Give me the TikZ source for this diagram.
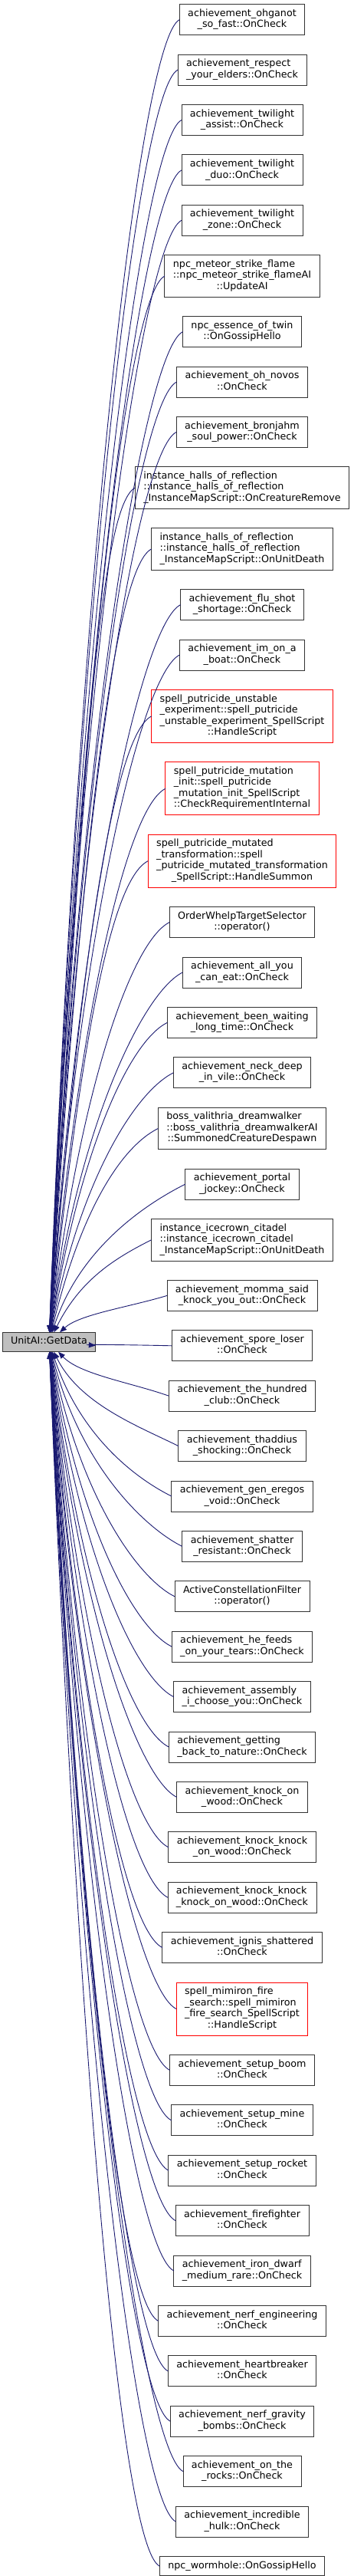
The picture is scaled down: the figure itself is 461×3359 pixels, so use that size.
\documentclass[tikz,border=0pt]{standalone}
\usepackage{fontspec}
\setmainfont{DejaVu Sans}
\usetikzlibrary{arrows.meta, positioning, calc}
\definecolor{midnight}{HTML}{191970}
\definecolor{framegray}{HTML}{333333}
\definecolor{rootgray}{HTML}{BFBFBF}

% first lines left, last line centred
\newcommand{\callee}[2]{\begin{tabular}{@{}l@{}}#1\\\multicolumn{1}{@{}c@{}}{#2}\end{tabular}}

\begin{document}
\begin{tikzpicture}[
  x=1pt, y=-1pt,
  font=\fontsize{12.7}{14.5}\selectfont,
  node distance=25.4pt,
  fn/.style={rectangle, draw=framegray, fill=white, line width=0.9pt,
             inner xsep=11pt, inner ysep=5.5pt, outer sep=0pt},
  fnred/.style={fn, draw=red},
  rootfn/.style={fn, fill=rootgray},
  callarrow/.style={{Triangle[length=9pt, width=7pt]}-, draw=midnight, line width=0.9pt},
]
\useasboundingbox (0,0) rectangle (461,3359);

\node[rootfn] (root) at (64,1750) {\strut UnitAI::GetData};

% callers, top to bottom
\node[fn] (ohganot) at (316,25.7) {\callee{achievement\_ohganot}{\_so\_fast::OnCheck}};
\node[fn, below=of ohganot] (respect) {\callee{achievement\_respect}{\_your\_elders::OnCheck}};
\node[fn, below=of respect] (twassist) {\callee{achievement\_twilight}{\_assist::OnCheck}};
\node[fn, below=of twassist] (twduo) {\callee{achievement\_twilight}{\_duo::OnCheck}};
\node[fn, below=of twduo] (twzone) {\callee{achievement\_twilight}{\_zone::OnCheck}};
\node[fn, below=of twzone] (meteor) {\callee{npc\_meteor\_strike\_flame\\::npc\_meteor\_strike\_flameAI}{::UpdateAI}};
\node[fn, below=of meteor] (essence) {\callee{npc\_essence\_of\_twin}{::OnGossipHello}};
\node[fn, below=of essence] (novos) {\callee{achievement\_oh\_novos}{::OnCheck}};
\node[fn, below=of novos] (bronjahm) {\callee{achievement\_bronjahm}{\_soul\_power::OnCheck}};
\node[fn, below=of bronjahm] (horremove) {\callee{instance\_halls\_of\_reflection\\::instance\_halls\_of\_reflection}{\_InstanceMapScript::OnCreatureRemove}};
\node[fn, below=of horremove] (hordeath) {\callee{instance\_halls\_of\_reflection\\::instance\_halls\_of\_reflection}{\_InstanceMapScript::OnUnitDeath}};
\node[fn, below=of hordeath] (flushot) {\callee{achievement\_flu\_shot}{\_shortage::OnCheck}};
\node[fn, below=of flushot] (boat) {\callee{achievement\_im\_on\_a}{\_boat::OnCheck}};
\node[fnred, below=of boat] (unstable) {\callee{spell\_putricide\_unstable\\\_experiment::spell\_putricide\\\_unstable\_experiment\_SpellScript}{::HandleScript}};
\node[fnred, below=of unstable] (mutinit) {\callee{spell\_putricide\_mutation\\\_init::spell\_putricide\\\_mutation\_init\_SpellScript}{::CheckRequirementInternal}};
\node[fnred, below=of mutinit] (mutated) {\callee{spell\_putricide\_mutated\\\_transformation::spell\\\_putricide\_mutated\_transformation}{\_SpellScript::HandleSummon}};
\node[fn, below=of mutated] (whelp) {\callee{OrderWhelpTargetSelector}{::operator()}};
\node[fn, below=of whelp] (allyou) {\callee{achievement\_all\_you}{\_can\_eat::OnCheck}};
\node[fn, below=of allyou] (waiting) {\callee{achievement\_been\_waiting}{\_long\_time::OnCheck}};
\node[fn, below=of waiting] (neckdeep) {\callee{achievement\_neck\_deep}{\_in\_vile::OnCheck}};
\node[fn, below=of neckdeep] (valithria) {\callee{boss\_valithria\_dreamwalker\\::boss\_valithria\_dreamwalkerAI}{::SummonedCreatureDespawn}};
\node[fn, below=of valithria] (portal) {\callee{achievement\_portal}{\_jockey::OnCheck}};
\node[fn, below=of portal] (icecrown) {\callee{instance\_icecrown\_citadel\\::instance\_icecrown\_citadel}{\_InstanceMapScript::OnUnitDeath}};
\node[fn, below=of icecrown] (momma) {\callee{achievement\_momma\_said}{\_knock\_you\_out::OnCheck}};
\node[fn, below=of momma] (spore) {\callee{achievement\_spore\_loser}{::OnCheck}};
\node[fn, below=of spore] (hundred) {\callee{achievement\_the\_hundred}{\_club::OnCheck}};
\node[fn, below=of hundred] (thaddius) {\callee{achievement\_thaddius}{\_shocking::OnCheck}};
\node[fn, below=of thaddius] (eregos) {\callee{achievement\_gen\_eregos}{\_void::OnCheck}};
\node[fn, below=of eregos] (shatter) {\callee{achievement\_shatter}{\_resistant::OnCheck}};
\node[fn, below=of shatter] (constellation) {\callee{ActiveConstellationFilter}{::operator()}};
\node[fn, below=of constellation] (hefeeds) {\callee{achievement\_he\_feeds}{\_on\_your\_tears::OnCheck}};
\node[fn, below=of hefeeds] (assembly) {\callee{achievement\_assembly}{\_i\_choose\_you::OnCheck}};
\node[fn, below=of assembly] (nature) {\callee{achievement\_getting}{\_back\_to\_nature::OnCheck}};
\node[fn, below=of nature] (knockone) {\callee{achievement\_knock\_on}{\_wood::OnCheck}};
\node[fn, below=of knockone] (knocktwo) {\callee{achievement\_knock\_knock}{\_on\_wood::OnCheck}};
\node[fn, below=of knocktwo] (knockthree) {\callee{achievement\_knock\_knock}{\_knock\_on\_wood::OnCheck}};
\node[fn, below=of knockthree] (ignis) {\callee{achievement\_ignis\_shattered}{::OnCheck}};
\node[fnred, below=of ignis] (mimiron) {\callee{spell\_mimiron\_fire\\\_search::spell\_mimiron\\\_fire\_search\_SpellScript}{::HandleScript}};
\node[fn, below=of mimiron] (boom) {\callee{achievement\_setup\_boom}{::OnCheck}};
\node[fn, below=of boom] (mine) {\callee{achievement\_setup\_mine}{::OnCheck}};
\node[fn, below=of mine] (rocket) {\callee{achievement\_setup\_rocket}{::OnCheck}};
\node[fn, below=of rocket] (firefighter) {\callee{achievement\_firefighter}{::OnCheck}};
\node[fn, below=of firefighter] (irondwarf) {\callee{achievement\_iron\_dwarf}{\_medium\_rare::OnCheck}};
\node[fn, below=of irondwarf] (nerfeng) {\callee{achievement\_nerf\_engineering}{::OnCheck}};
\node[fn, below=of nerfeng] (heartbreaker) {\callee{achievement\_heartbreaker}{::OnCheck}};
\node[fn, below=of heartbreaker] (nerfgrav) {\callee{achievement\_nerf\_gravity}{\_bombs::OnCheck}};
\node[fn, below=of nerfgrav] (rocks) {\callee{achievement\_on\_the}{\_rocks::OnCheck}};
\node[fn, below=of rocks] (hulk) {\callee{achievement\_incredible}{\_hulk::OnCheck}};
\node[fn, below=of hulk] (wormhole) {\strut npc\_wormhole::OnGossipHello};

% every caller points back at GetData
\foreach \nm in {ohganot, respect, twassist, twduo, twzone, meteor, essence, novos,
    bronjahm, horremove, hordeath, flushot, boat, unstable, mutinit, mutated, whelp,
    allyou, waiting, neckdeep, valithria, portal, icecrown, momma, spore, hundred,
    thaddius, eregos, shatter, constellation, hefeeds, assembly, nature, knockone,
    knocktwo, knockthree, ignis, mimiron, boom, mine, rocket, firefighter, irondwarf,
    nerfeng, heartbreaker, nerfgrav, rocks, hulk, wormhole}
  \draw[callarrow] let \p1=(root.center), \p2=(\nm.west) in
    (root) .. controls ({\x1+40pt}, {\y1+0.6*(\y2-\y1)})
              and ({\x2-50pt}, {\y2-25pt*max(-1,min(1,(\y2-\y1)/100pt))}) .. (\nm.west);
\end{tikzpicture}
\end{document}
